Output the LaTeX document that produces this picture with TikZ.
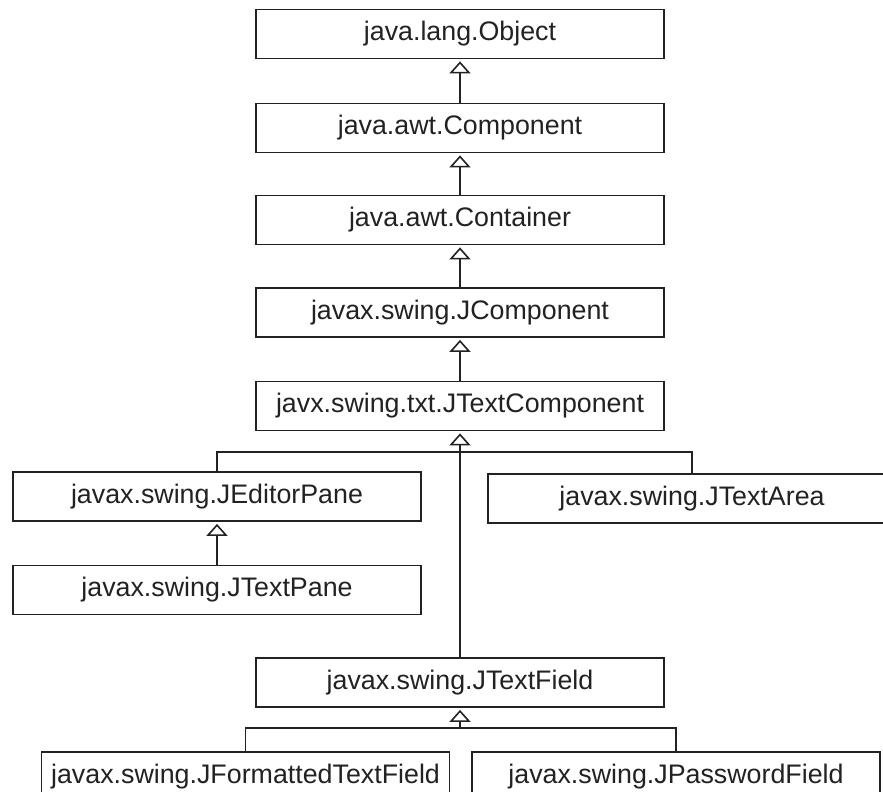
\documentclass[tikz,border=0pt]{standalone}
\usepackage{fontspec}
\setmainfont{Liberation Sans}
\usetikzlibrary{arrows.meta}
\definecolor{ink}{HTML}{222222}
\tikzset{
  cls/.style={draw=ink, line width=1.8pt, minimum width=408pt, minimum height=49pt,
    inner sep=0pt, text=ink, font=\fontsize{26.8}{30}\selectfont, fill=white},
  gen/.style={draw=ink, line width=1.8pt, -{Triangle[open, width=21pt, length=12pt, line width=1.6pt]}, shorten >=2pt},
  wire/.style={draw=ink, line width=1.8pt}
}
\begin{document}
\begin{tikzpicture}[x=1pt, y=-1pt]
\useasboundingbox (0,0) rectangle (883,792);
\clip (0,0) rectangle (883,792);
\fill[white] (0,0) rectangle (883,792);
\node[cls] (obj)   at (460,34)    {java.lang.Object};
\node[cls] (comp)  at (460,128)   {java.awt.Component};
\node[cls] (cont)  at (460,220)   {java.awt.Container};
\node[cls] (jcomp) at (460,312.5) {javax.swing.JComponent};
\node[cls] (jtext) at (460,406)   {javx.swing.txt.JTextComponent};
\node[cls] (edit)  at (217,496.5) {javax.swing.JEditorPane};
\node[cls] (area)  at (692,498.5) {javax.swing.JTextArea};
\node[cls] (pane)  at (217,590)   {javax.swing.JTextPane};
\node[cls] (field) at (460,682.5) {javax.swing.JTextField};
\node[cls] (fmt)   at (245.5,776.5) {javax.swing.JFormattedTextField};
\node[cls] (pwd)   at (676,776.5) {javax.swing.JPasswordField};
\coordinate (bus1) at (460,452);
\coordinate (bus2) at (460,728);
\draw[gen] (comp.north) -- (obj.south);
\draw[gen] (cont.north) -- (comp.south);
\draw[gen] (jcomp.north) -- (cont.south);
\draw[gen] (jtext.north) -- (jcomp.south);
\draw[gen] (field.north) -- (jtext.south);
\draw[wire] (edit.north) |- (bus1);
\draw[wire] (area.north) |- (bus1);
\draw[gen] (pane.north) -- (edit.south);
\draw[gen] (fmt.north) |- (bus2) -- (field.south);
\draw[wire] (pwd.north) |- (bus2);
\end{tikzpicture}
\end{document}
